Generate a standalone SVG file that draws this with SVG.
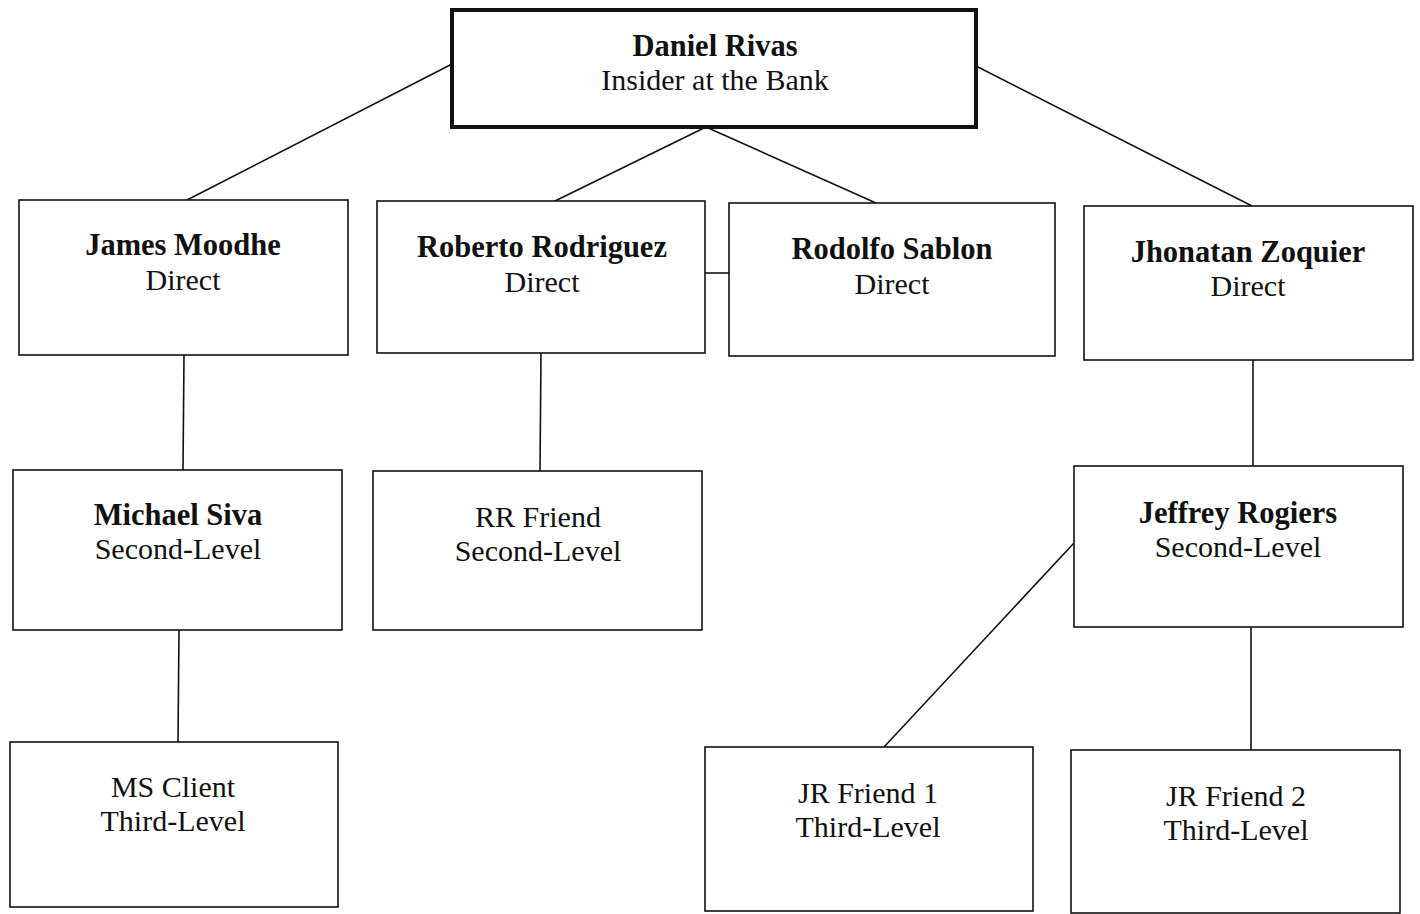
<svg xmlns="http://www.w3.org/2000/svg" width="1420" height="914" viewBox="0 0 1420 914">
<style>
.box{fill:#fff;stroke:#111;stroke-width:1.6}
.top{fill:#fff;stroke:#111;stroke-width:4}
.c{stroke:#111;stroke-width:1.6;fill:none}
text{font-family:"Liberation Serif","Times New Roman",serif;font-size:30px;fill:#111;text-anchor:middle}
.b{font-weight:bold;font-size:30.5px}
</style>
<rect width="1420" height="914" fill="#fff"/>
<g id="connectors">
<line class="c" x1="452" y1="64" x2="187" y2="200"/>
<line class="c" x1="706" y1="127" x2="555" y2="201"/>
<line class="c" x1="706" y1="127" x2="876" y2="203"/>
<line class="c" x1="976" y1="66" x2="1252" y2="206"/>
<line class="c" x1="705" y1="273" x2="729" y2="273"/>
<line class="c" x1="184" y1="355" x2="183" y2="470"/>
<line class="c" x1="541" y1="353" x2="540" y2="471"/>
<line class="c" x1="179" y1="630" x2="178" y2="742"/>
<line class="c" x1="1253" y1="360" x2="1253" y2="466"/>
<line class="c" x1="1074" y1="543" x2="884" y2="747"/>
<line class="c" x1="1251" y1="627" x2="1251" y2="750"/>
</g>
<g id="daniel"><rect class="top" x="452" y="10" width="524" height="117"/><text class="b" x="715" y="56">Daniel Rivas</text><text x="715" y="90">Insider at the Bank</text></g>
<g id="james"><rect class="box" x="19" y="200" width="329" height="155"/><text class="b" x="183" y="255">James Moodhe</text><text x="183" y="290">Direct</text></g>
<g id="roberto"><rect class="box" x="377" y="201" width="328" height="152"/><text class="b" x="542" y="257">Roberto Rodriguez</text><text x="542" y="292">Direct</text></g>
<g id="rodolfo"><rect class="box" x="729" y="203" width="326" height="153"/><text class="b" x="892" y="259">Rodolfo Sablon</text><text x="892" y="294">Direct</text></g>
<g id="jhonatan"><rect class="box" x="1084" y="206" width="329" height="154"/><text class="b" x="1248" y="262">Jhonatan Zoquier</text><text x="1248" y="296">Direct</text></g>
<g id="michael"><rect class="box" x="13" y="470" width="329" height="160"/><text class="b" x="178" y="525">Michael Siva</text><text x="178" y="559">Second-Level</text></g>
<g id="rrfriend"><rect class="box" x="373" y="471" width="329" height="159"/><text x="538" y="527">RR Friend</text><text x="538" y="561">Second-Level</text></g>
<g id="jeffrey"><rect class="box" x="1074" y="466" width="329" height="161"/><text class="b" x="1238" y="523">Jeffrey Rogiers</text><text x="1238" y="557">Second-Level</text></g>
<g id="msclient"><rect class="box" x="10" y="742" width="328" height="165"/><text x="173" y="797">MS Client</text><text x="173" y="831">Third-Level</text></g>
<g id="jrfriend1"><rect class="box" x="705" y="747" width="328" height="164"/><text x="868" y="803">JR Friend 1</text><text x="868" y="837">Third-Level</text></g>
<g id="jrfriend2"><rect class="box" x="1071" y="750" width="329" height="163"/><text x="1236" y="806">JR Friend 2</text><text x="1236" y="840">Third-Level</text></g>
</svg>
